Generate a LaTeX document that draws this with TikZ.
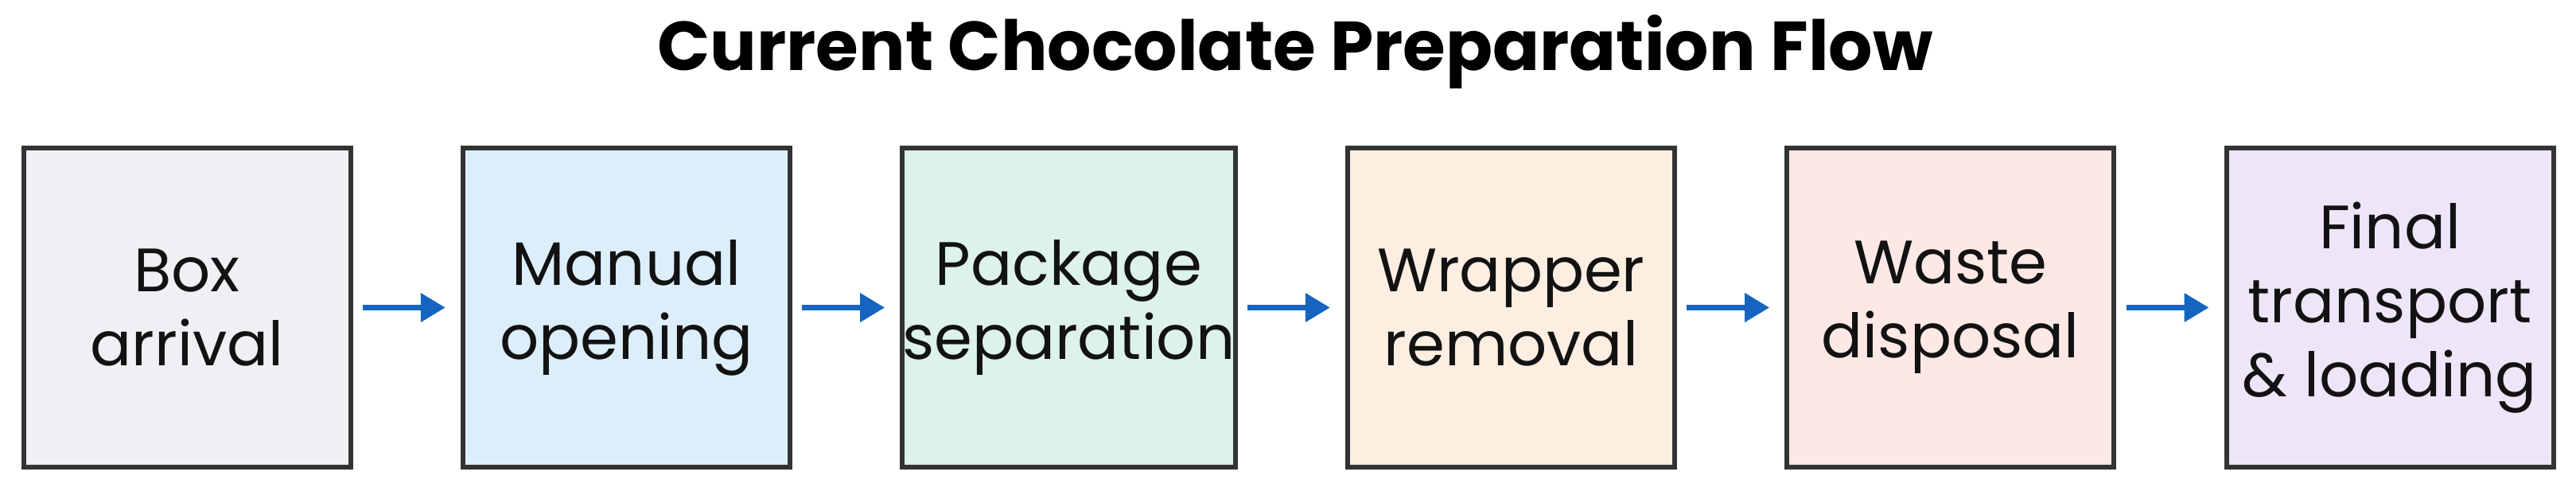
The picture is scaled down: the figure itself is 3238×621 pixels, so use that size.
\documentclass[tikz,border=0pt]{standalone}
\usepackage{fontspec}
\setmainfont{Poppins}
\usetikzlibrary{arrows.meta,positioning}

\definecolor{boxline}{HTML}{333333}
\definecolor{flowblue}{HTML}{1565C0}
\definecolor{fillgray}{HTML}{EEF0F4}
\definecolor{fillblue}{HTML}{DDEEFB}
\definecolor{fillgreen}{HTML}{DDF2E8}
\definecolor{fillpeach}{HTML}{FDEEE2}
\definecolor{fillpink}{HTML}{FDE8E6}
\definecolor{filllilac}{HTML}{EEE5F8}

\tikzset{
  stage/.style={draw=boxline, line width=1.8pt, fill=#1,
    minimum width=123.3pt, minimum height=120.3pt,
    inner sep=0pt, outer sep=0pt, align=center, text=black!93,
    font=\fontsize{23.1}{27.9}\selectfont},
  flow/.style={-{Triangle[length=9.3pt,width=10.5pt]}, line width=2.1pt, draw=flowblue}
}

\begin{document}
\begin{tikzpicture}[x=0.3pt, y=0.3pt, node distance=42.4pt]
            \useasboundingbox (0,0) rectangle (3238,621);
            \node[anchor=base, font=\fontsize{26.1}{31}\selectfont\bfseries] (title) at (1628,533) {Current Chocolate Preparation Flow};
            \node[stage=fillgray] (arrival) at (235,234.5) {Box\\arrival};
            \node[stage=fillblue, right=of arrival] (opening) {Manual\\opening};
            \node[stage=fillgreen, right=of opening] (separation) {Package\\separation};
            \node[stage=fillpeach, right=of separation] (removal) {Wrapper\\removal};
            \node[stage=fillpink, right=of removal] (disposal) {Waste\\disposal};
            \node[stage=filllilac, right=of disposal] (loading) {Final\\transport\\\& loading};
            \draw[flow] ([xshift=4.6pt]arrival.east) -- ([xshift=-6.6pt]opening.west);
            \draw[flow] ([xshift=4.6pt]opening.east) -- ([xshift=-6.6pt]separation.west);
            \draw[flow] ([xshift=4.6pt]separation.east) -- ([xshift=-6.6pt]removal.west);
            \draw[flow] ([xshift=4.6pt]removal.east) -- ([xshift=-6.6pt]disposal.west);
            \draw[flow] ([xshift=4.6pt]disposal.east) -- ([xshift=-6.6pt]loading.west);
        \end{tikzpicture}
\end{document}
